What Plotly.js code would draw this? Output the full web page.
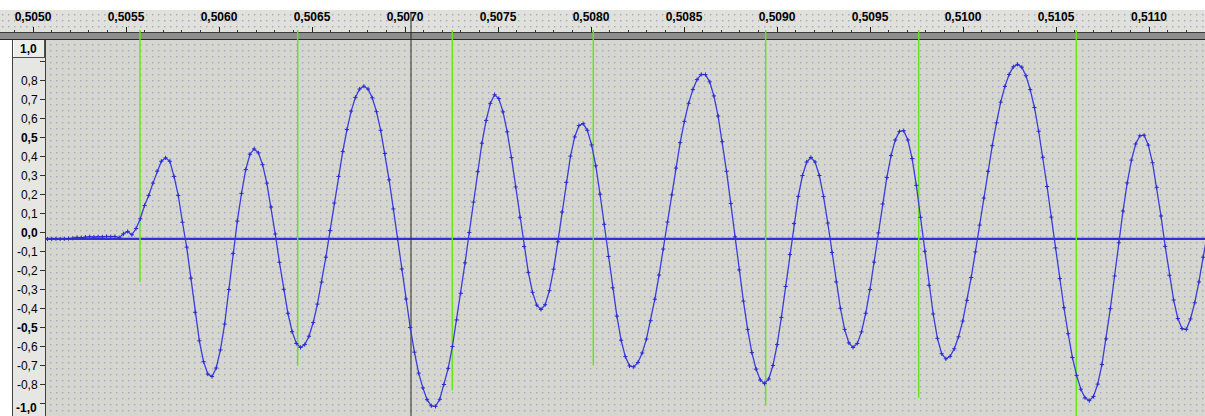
<!DOCTYPE html>
<html><head><meta charset="utf-8">
<script src="https://cdn.plot.ly/plotly-3.0.1.min.js"></script>
<style>html,body{margin:0;padding:0;background:#fff;overflow:hidden}#chart{width:1205px;height:416px}</style>
</head><body><div id="chart"></div>
<script>
// ---- data ----
const sampleRate = 44100;            // samples per second
const firstSampleTime = 0.5050553;   // seconds
const amplitude = [
-0.034,-0.034,-0.034,-0.033,-0.034,-0.033,-0.032,-0.030,-0.026,-0.027,
-0.024,-0.022,-0.024,-0.022,-0.023,-0.021,-0.022,-0.021,-0.027,-0.007,
0.005,-0.012,0.021,0.072,0.142,0.195,0.260,0.323,0.375,0.393,
0.375,0.295,0.195,0.054,-0.077,-0.240,-0.420,-0.570,-0.680,-0.745,
-0.758,-0.713,-0.618,-0.482,-0.300,-0.110,0.060,0.206,0.331,0.412,
0.440,0.419,0.357,0.260,0.134,-0.008,-0.157,-0.299,-0.425,-0.522,
-0.584,-0.605,-0.590,-0.546,-0.474,-0.377,-0.261,-0.130,0.010,0.155,
0.295,0.426,0.542,0.639,0.711,0.755,0.770,0.755,0.709,0.636,
0.538,0.416,0.277,0.124,-0.033,-0.192,-0.350,-0.500,-0.630,-0.740,
-0.818,-0.880,-0.912,-0.915,-0.878,-0.800,-0.715,-0.600,-0.460,-0.320,
-0.160,0.000,0.160,0.320,0.470,0.590,0.680,0.725,0.705,0.635,
0.530,0.394,0.240,0.080,-0.074,-0.210,-0.315,-0.382,-0.405,-0.380,
-0.306,-0.193,-0.049,0.108,0.264,0.402,0.503,0.563,0.573,0.538,
0.461,0.351,0.202,0.043,-0.126,-0.291,-0.440,-0.567,-0.653,-0.702,
-0.707,-0.684,-0.634,-0.561,-0.464,-0.351,-0.224,-0.087,0.055,0.198,
0.339,0.473,0.585,0.680,0.752,0.805,0.832,0.831,0.793,0.719,
0.613,0.478,0.322,0.153,-0.023,-0.197,-0.361,-0.510,-0.632,-0.719,
-0.776,-0.795,-0.771,-0.700,-0.590,-0.447,-0.284,-0.116,0.047,0.190,
0.300,0.371,0.395,0.371,0.300,0.189,0.050,-0.105,-0.260,-0.399,
-0.510,-0.581,-0.605,-0.584,-0.523,-0.425,-0.300,-0.156,-0.002,0.150,
0.289,0.405,0.487,0.532,0.536,0.487,0.389,0.248,0.080,-0.099,
-0.278,-0.429,-0.557,-0.638,-0.665,-0.652,-0.612,-0.549,-0.466,-0.357,
-0.237,-0.102,0.039,0.181,0.322,0.457,0.577,0.686,0.769,0.832,
0.872,0.885,0.870,0.825,0.752,0.658,0.533,0.396,0.242,0.081,
-0.081,-0.242,-0.396,-0.533,-0.658,-0.752,-0.825,-0.870,-0.885,-0.863,
-0.798,-0.695,-0.560,-0.401,-0.229,-0.054,0.113,0.261,0.381,0.466,
0.509,0.512,0.460,0.367,0.238,0.087,-0.073,-0.225,-0.355,-0.453,
-0.506,-0.510,-0.455,-0.370,-0.260,-0.130,-0.010
];
const baselineLevel = -0.034;
const markerTimes   = [0.5055753, 0.5064231, 0.5072543, 0.5080124, 0.5089392, 0.5097618, 0.5106091];
const markerBottoms = [-0.26, -0.70, -0.83, -0.70, -0.91, -0.87, -1.0];
const cursorTime = 0.5070323;
const xTickVals = [0.5050,0.5055,0.5060,0.5065,0.5070,0.5075,0.5080,0.5085,0.5090,0.5095,0.5100,0.5105,0.5110];
const xTickText = ["0,5050","0,5055","0,5060","0,5065","0,5070","0,5075","0,5080","0,5085","0,5090","0,5095","0,5100","0,5105","0,5110"];
const yTickVals = [1.0,0.9,0.8,0.7,0.6,0.5,0.4,0.3,0.2,0.1,0.0,-0.1,-0.2,-0.3,-0.4,-0.5,-0.6,-0.7,-0.8,-0.9,-1.0];
const yTickText = ["1,0","","0,8","0,7","0,6","0,5","0,4","0,3","0,2","0,1","0,0","-0,1","-0,2","-0,3","-0,4","-0,5","-0,6","-0,7","-0,8","","-1,0"];
const timeWindow = [0.5050699, 0.5113011];
const ampWindow  = [-0.9658, 1.0132];

// ---- styling / layout ----
const W = 1205, H = 416;
const trackLeft = 46, trackTop = 40, rulerTop = 10, rulerBottom = 32;
const FONT = '"Liberation Sans", Arial, sans-serif';
const waveColor = 'rgb(60,60,222)';
const green = 'rgb(104,228,30)';

const times = amplitude.map((_, k) => firstSampleTime + k / sampleRate);
const span = timeWindow[1] - timeWindow[0];
const rulerRange = [timeWindow[0] - span * trackLeft / (W - trackLeft), timeWindow[1]];

const isBold = v => Math.abs(Math.round(v * 10) % 5) === 0;
const inner = yTickVals.map((v, i) => ({v, t: yTickText[i]})).filter(d => Math.abs(d.v) < 0.95);

const svg = `<svg xmlns='http://www.w3.org/2000/svg' width='${W}' height='${H}' viewBox='0 0 ${W} ${H}'>
<defs><pattern id='d' width='6' height='6' patternUnits='userSpaceOnUse'><rect x='2' y='2' width='1.4' height='1.4' fill='#a4a4cc'/></pattern></defs>
<rect width='${W}' height='${H}' fill='#ffffff'/>
<rect x='0' y='${rulerTop}' width='${W}' height='${rulerBottom-rulerTop}' fill='#e1e1db'/>
<rect x='0' y='${rulerTop}' width='${W}' height='${rulerBottom-rulerTop}' fill='url(#d)'/>
<rect x='0' y='32' width='${W}' height='1' fill='#3a3a3a'/>
<rect x='0' y='33' width='${W}' height='6' fill='#8e8e8e'/>
<rect x='0' y='39' width='${W}' height='1' fill='#2a2a2a'/>
<rect x='12' y='40' width='34' height='376' fill='#e6e6e2'/>
<rect x='12' y='40' width='1' height='376' fill='#404040'/>
<rect x='45' y='40' width='1' height='376' fill='#404040'/>
<rect x='13' y='40' width='32' height='18' fill='#ececE8'/>
<rect x='13' y='40' width='1' height='17' fill='#ffffff'/>
<rect x='13' y='57' width='32' height='1' fill='#505050'/>
<rect x='44' y='40' width='1' height='18' fill='#505050'/>
<rect x='46' y='40' width='${W-46}' height='376' fill='#d5d6ce'/>
<rect x='46' y='40' width='${W-46}' height='376' fill='url(#d)'/>
</svg>`;

const shapes = [];
shapes.push({type:'line', xref:'x domain', x0:0, x1:1, yref:'y', y0:baselineLevel, y1:baselineLevel,
  line:{color:'rgb(48,48,214)', width:2.2}, layer:'below'});
markerTimes.forEach((t, i) => {
  shapes.push({type:'line', xref:'x', yref:'y', x0:t, x1:t, y0:markerBottoms[i], y1:ampWindow[1] + 0.1,
    line:{color:green, width:1.5}, layer:'below'});
  shapes.push({type:'line', xref:'x', yref:'paper', x0:t, x1:t, y0:(H-trackTop)/H, y1:(H-30)/H,
    line:{color:green, width:1.5}, layer:'below'});
});
shapes.push({type:'line', xref:'x', yref:'paper', x0:cursorTime, x1:cursorTime, y0:0, y1:(H-12)/H,
  line:{color:'#2a2a2a', width:1}, layer:'below'});

const edgeLabels = yTickVals.map((v, i) => ({v, t: yTickText[i]})).filter(d => Math.abs(d.v) >= 0.95);
const annotations = edgeLabels.map(d => ({
  text: '<b>' + d.t + '</b>', showarrow:false, xref:'paper', x:38.8/W, xanchor:'right',
  yref:'paper', y: d.v > 0 ? (H-49.5)/H : 0, yanchor: d.v > 0 ? 'middle' : 'bottom',
  yshift: d.v > 0 ? 0 : -1,
  font:{family:FONT, size:12, color:'#000'}
}));

const layout = {
  width:W, height:H, margin:{l:0,r:0,t:0,b:0},
  paper_bgcolor:'#ffffff', plot_bgcolor:'rgba(0,0,0,0)', showlegend:false,
  images:[{source:'data:image/svg+xml;charset=utf-8,' + encodeURIComponent(svg),
    xref:'paper', yref:'paper', x:0, y:1, sizex:1, sizey:1, xanchor:'left', yanchor:'top',
    sizing:'stretch', layer:'below'}],
  xaxis:{domain:[trackLeft/W,1], range:timeWindow, anchor:'y', showgrid:false, zeroline:false,
    showline:false, showticklabels:false, ticks:''},
  yaxis:{domain:[0,(H-trackTop)/H], range:ampWindow, anchor:'x', showgrid:false, zeroline:false,
    showline:false, ticks:'outside', ticklen:5, tickwidth:1, tickcolor:'#333',
    tickvals:inner.map(d=>d.v), ticktext:inner.map(d=> isBold(d.v) ? '<b>'+d.t+'</b>' : d.t),
    tickfont:{family:FONT, size:12, color:'#000'}},
  xaxis2:{domain:[0,1], range:rulerRange, anchor:'y2', side:'bottom', showgrid:false, zeroline:false,
    showline:false, showticklabels:false, ticks:'inside', ticklen:5, tickwidth:1, tickcolor:'#222',
    tickvals:xTickVals,
    minor:{ticks:'inside', ticklen:2, tickwidth:1, tickcolor:'#333', dtick:0.0001, tick0:0.505, showgrid:false}},
  xaxis3:{domain:[0,1], range:rulerRange, anchor:'y2', overlaying:'x2', side:'top', showgrid:false,
    zeroline:false, showline:false, ticks:'', ticklabelposition:'inside',
    tickvals:xTickVals, ticktext:xTickText.map(s=>'<b>'+s+'</b>'),
    tickfont:{family:FONT, size:12, color:'#000'}},
  yaxis2:{domain:[(H-rulerBottom)/H,(H-rulerTop)/H], range:[0,1], anchor:'x2', visible:false},
  shapes, annotations
};

const traces = [
  {type:'scatter', mode:'lines+markers', x:times, y:amplitude, xaxis:'x', yaxis:'y',
   line:{color:waveColor, width:1.3},
   marker:{symbol:'cross-thin', size:3, color:waveColor, line:{width:1, color:'rgb(44,44,205)'}},
   hoverinfo:'skip'},
  {type:'scatter', mode:'markers', x:[xTickVals[0]], y:[0.5], xaxis:'x2', yaxis:'y2', marker:{opacity:0}, hoverinfo:'skip'},
  {type:'scatter', mode:'markers', x:[xTickVals[0]], y:[0.5], xaxis:'x3', yaxis:'y2', marker:{opacity:0}, hoverinfo:'skip'}
];

Plotly.newPlot('chart', traces, layout, {displayModeBar:false, staticPlot:true});
</script></body></html>
